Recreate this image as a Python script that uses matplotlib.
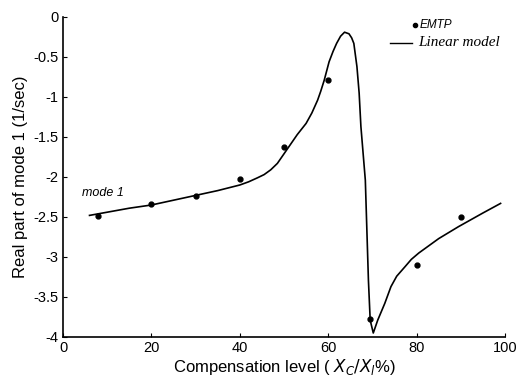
import matplotlib
matplotlib.use("Agg")
import matplotlib.pyplot as plt

# EMTP simulation points
emtp_x = [8, 20, 30, 40, 50, 60, 69.4, 80, 90]
emtp_y = [-2.49, -2.34, -2.24, -2.02, -1.62, -0.79, -3.77, -3.10, -2.50]

# Linear model curve
lin_x = [6, 10, 15, 20, 25, 30, 35, 40, 42, 44, 45.5, 47, 48.5, 50, 51.5, 53, 55,
         56.3, 57.6, 58.3, 59.1, 60.2, 61.1, 61.9, 62.8, 63.7, 64.7, 65.3, 65.8,
         66.5, 67, 67.4, 68.4, 69.1, 69.5, 70.2, 71.2, 72.8, 74.2, 75.5, 77.4,
         78.8, 80.5, 82.5, 85, 89.5, 95, 99]
lin_y = [-2.48, -2.44, -2.39, -2.35, -2.29, -2.23, -2.17, -2.10, -2.06, -2.01,
         -1.97, -1.91, -1.83, -1.71, -1.59, -1.47, -1.33, -1.20, -1.04, -0.93,
         -0.79, -0.56, -0.43, -0.33, -0.24, -0.19, -0.21, -0.26, -0.33, -0.62,
         -0.95, -1.37, -2.04, -3.29, -3.79, -3.95, -3.79, -3.58, -3.37, -3.24,
         -3.12, -3.03, -2.95, -2.87, -2.77, -2.62, -2.45, -2.33]

x_ticks = [0, 20, 40, 60, 80, 100]
y_ticks = [0, -0.5, -1, -1.5, -2, -2.5, -3, -3.5, -4]
y_tick_labels = ["0", "-0.5", "-1", "-1.5", "-2", "-2.5", "-3", "-3.5", "-4"]

plt.rcParams['font.family'] = ['Liberation Sans', 'DejaVu Sans']

fig = plt.figure(figsize=(5.19, 3.77), dpi=100)
ax = fig.add_axes([63/519, 1-337/377, 442/519, 320/377])

ax.plot(lin_x, lin_y, color='black', lw=1.2, solid_joinstyle='round')
ax.plot(emtp_x, emtp_y, 'o', color='black', ms=3.5, ls='none')

ax.set_xlim(0, 100)
ax.set_ylim(-4, 0)
ax.set_xticks(x_ticks)
ax.set_yticks(y_ticks)
ax.set_yticklabels(y_tick_labels)
ax.tick_params(direction='in', length=3, width=0.8, labelsize=10.5, pad=3)
for s in ['top', 'right']:
    ax.spines[s].set_visible(False)
for s in ['left', 'bottom']:
    ax.spines[s].set_linewidth(1.2)

ax.set_xlabel("Compensation level ( $X_C/X_l$%)", fontsize=12, labelpad=1)
ax.set_ylabel("Real part of mode 1 (1/sec)", fontsize=12, labelpad=4)

ax.text(4.3, -2.2, "mode 1", fontsize=9, style='italic', va='center', ha='left')

# legend drawn manually
ax.plot([0.796], [0.975], 'o', color='black', ms=3, transform=ax.transAxes, clip_on=False)
ax.text(0.806, 0.975, "EMTP", fontsize=8.5, style='italic', va='center', ha='left',
        transform=ax.transAxes)
ax.plot([0.740, 0.790], [0.919, 0.919], color='black', lw=1.0, transform=ax.transAxes,
        clip_on=False)
ax.text(0.803, 0.919, "Linear model", fontsize=11, style='italic', va='center', ha='left',
        family=['Liberation Serif', 'DejaVu Serif'], transform=ax.transAxes)

fig.savefig("out.png", dpi=100)
